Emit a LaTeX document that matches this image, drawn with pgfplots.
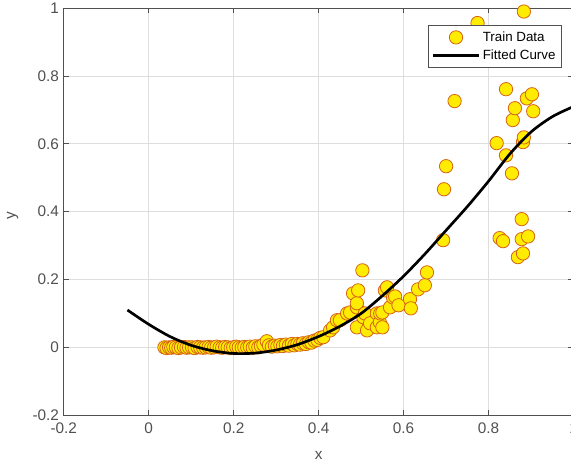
\documentclass[border=0pt]{standalone}
\usepackage{fontspec}
\setmainfont{Liberation Sans}
\usepackage{pgfplots}
\pgfplotsset{compat=1.18}
\definecolor{axgray}{RGB}{80,80,80}
\definecolor{gridgray}{RGB}{222,222,222}
\definecolor{mkfill}{RGB}{255,236,0}
\definecolor{mkedge}{RGB}{215,100,20}
\pgfplotsset{
  dotlegend/.style={legend image code/.code={\draw[##1] plot coordinates {(0.6cm,0cm)};}},
  linelegend/.style={legend image code/.code={\draw[##1] (0cm,0cm) -- (1.2cm,0cm);}},
}

\begin{document}
\begin{tikzpicture}
\begin{axis}[
  width=382pt, height=305pt, scale only axis,
  xmin=-0.2, xmax=1, ymin=-0.2, ymax=1,
  xtick={-0.2,0,0.2,0.4,0.6,0.8,1},
  ytick={-0.2,0,0.2,0.4,0.6,0.8,1},
  grid=major, major grid style={gridgray, line width=0.5pt},
  axis line style={axgray, line width=0.5pt},
  tick style={axgray, line width=0.5pt},
  tick align=inside, major tick length=4pt,
  xtick pos=both, ytick pos=both,
  tick label style={font=\fontsize{11.5}{13}\selectfont, text=axgray},
  xticklabel style={yshift=-2.5pt},
  /pgf/number format/assume math mode=true,
  xlabel={x}, ylabel={y},
  label style={font=\fontsize{11.5}{13}\selectfont, text=axgray},
  xlabel style={at={(axis description cs:0.5,-0.098)}, anchor=center},
  ylabel style={at={(axis description cs:-0.1,0.49)}, anchor=center},
  legend style={at={(0.977,0.958)}, anchor=north east, draw=axgray,
    fill=white, line width=0.5pt, font=\fontsize{10}{12}\selectfont,
    inner xsep=2.5pt, inner ysep=2.5pt, row sep=1pt},
  legend cell align=left,
  clip mode=individual,
]
% train data
\addplot[only marks, mark=*, mark size=5pt,
  mark options={fill=mkfill, draw=mkedge, line width=0.6pt}, dotlegend]
coordinates {
(0.037,0) (0.042,-0.002) (0.048,0) (0.053,-0.001) (0.058,0.001) (0.064,0)
(0.070,-0.002) (0.076,0) (0.083,0.001) (0.089,-0.001) (0.095,0) (0.102,0)
(0.108,-0.002) (0.115,0.001) (0.121,0) (0.128,-0.001) (0.134,0) (0.141,0.001)
(0.147,-0.001) (0.154,0) (0.160,0.002) (0.167,0) (0.173,-0.001) (0.180,0.001)
(0.186,0) (0.193,-0.002) (0.199,0) (0.206,0.002) (0.212,0) (0.219,-0.001)
(0.225,0.001) (0.232,0) (0.238,0.002) (0.245,-0.001) (0.251,0.003) (0.258,0)
(0.264,0.004) (0.270,0.008) (0.278,0.018) (0.283,0.006) (0.290,0.002)
(0.297,0.005) (0.303,0.003) (0.310,0.007) (0.316,0.004) (0.323,0.008)
(0.330,0.005) (0.337,0.010) (0.343,0.006) (0.350,0.010) (0.356,0.008)
(0.363,0.012) (0.370,0.010) (0.377,0.015) (0.383,0.014) (0.390,0.020)
(0.397,0.022) (0.404,0.028)
(0.411,0.030) (0.427,0.050) (0.434,0.059) (0.443,0.080) (0.450,0.080)
(0.467,0.100) (0.474,0.103) (0.481,0.159) (0.490,0.118) (0.490,0.130)
(0.493,0.168) (0.490,0.059) (0.503,0.227) (0.505,0.089) (0.509,0.100)
(0.514,0.050) (0.521,0.071) (0.537,0.100) (0.537,0.059) (0.544,0.074)
(0.545,0.100) (0.550,0.103) (0.550,0.059) (0.556,0.168) (0.561,0.177)
(0.568,0.118) (0.575,0.147) (0.580,0.150) (0.588,0.124) (0.615,0.142)
(0.617,0.115) (0.634,0.171) (0.650,0.183) (0.655,0.221)
(0.693,0.316) (0.695,0.466) (0.700,0.534) (0.720,0.726) (0.774,0.956)
(0.819,0.602) (0.826,0.322) (0.834,0.313) (0.841,0.761) (0.841,0.566)
(0.855,0.513) (0.857,0.670) (0.862,0.705) (0.869,0.266) (0.878,0.378)
(0.878,0.319) (0.881,0.605) (0.881,0.277) (0.883,0.619) (0.883,0.990)
(0.890,0.734) (0.893,0.327) (0.902,0.746) (0.905,0.696)
};
\addlegendentry{Train Data}
% fitted curve
\addplot[black, line width=2pt, smooth, linelegend]
coordinates {
(-0.05,0.110) (0,0.068) (0.05,0.032) (0.10,0.006) (0.15,-0.010)
(0.20,-0.018) (0.25,-0.017) (0.30,-0.008) (0.35,0.008) (0.40,0.032)
(0.45,0.062) (0.50,0.100) (0.55,0.152) (0.60,0.210) (0.65,0.275)
(0.70,0.345) (0.75,0.415) (0.80,0.490) (0.85,0.570) (0.90,0.635)
(0.95,0.680) (1.00,0.710)
};
\addlegendentry{Fitted Curve}
\coordinate (bbsw) at (axis cs:-0.35,-0.345);
\coordinate (bbne) at (axis cs:0.994,1.024);
\end{axis}
\pgfresetboundingbox
\useasboundingbox (bbsw) rectangle (bbne);
\end{tikzpicture}
\end{document}
